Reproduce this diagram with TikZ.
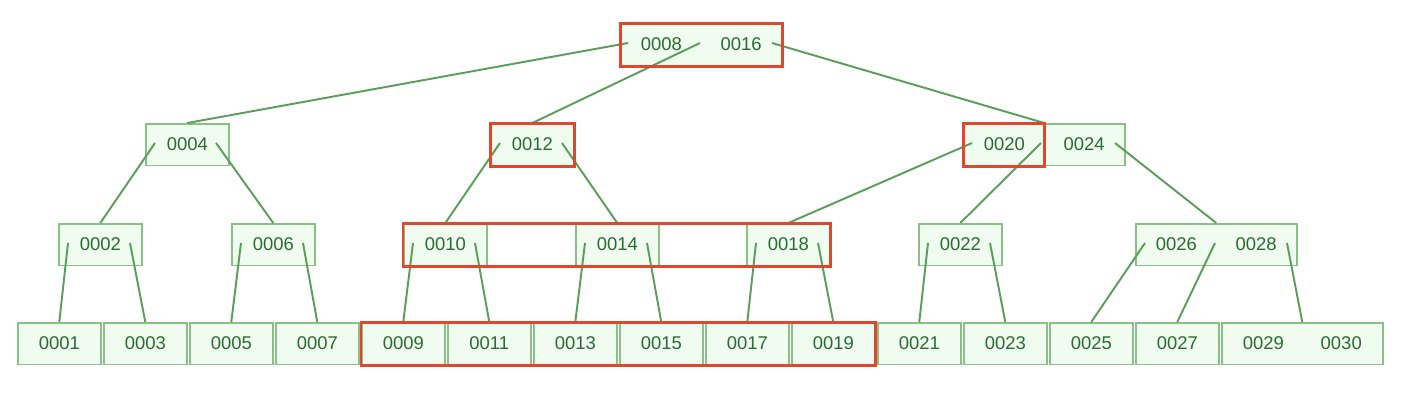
\documentclass[tikz,border=0pt]{standalone}
\usepackage{fontspec}
\setmainfont{Liberation Sans}
\usepackage{tikz}
\usetikzlibrary{positioning,calc}

\definecolor{nodefill}{HTML}{EFFCEF}
\definecolor{nodeline}{HTML}{88C088}
\definecolor{keytext}{HTML}{2A6A33}
\definecolor{ptrline}{HTML}{5A9E5A}
\definecolor{hlred}{HTML}{E2472B}

\begin{document}
\begin{tikzpicture}[x=0.02cm, y=-0.02cm,
  key/.style={rectangle, draw=nodeline, fill=nodefill, line width=0.9pt,
    minimum width=1.66cm, minimum height=0.83cm, inner sep=0pt,
    anchor=north west, font=\fontsize{10.5}{12}\selectfont, text=keytext},
  wide/.style={key, minimum width=3.22cm},
  ptr/.style={draw=ptrline, line width=1.1pt},
  hl/.style={draw=hlred, line width=1.7pt}
]
  \useasboundingbox (0,0) rectangle (1426,414);

  \node[wide] (n0008) at (620,23) {0008\hspace{22pt}0016};

  \node[key] (n0004) at (145,123) {0004};
  \node[key] (n0012) at (490,123) {0012};
  \node[wide] (n0020) at (963,123) {0020\hspace{22pt}0024};

  \foreach \k/\x in {0002/58,0006/231,0010/403,0014/575,0018/746,0022/918}
    \node[key] (n\k) at (\x,223) {\k};
  \node[wide] (n0026) at (1135,223) {0026\hspace{22pt}0028};

  \foreach \k [count=\i from 0] in {0001,0003,0005,0007,0009,0011,0013,
    0015,0017,0019,0021,0023,0025,0027}
    \node[key] (n\k) at ({17+86*\i},322) {\k};
  \node[wide] (n0029) at (1221,322) {0029\hspace{21pt}0030};

  \foreach \p/\dx/\c in {n0008/8/n0004,n0008/80/n0012,n0008/152/n0020,
    n0004/10/n0002,n0004/71/n0006,n0012/10/n0010,n0012/72/n0014,
    n0020/9/n0018,n0020/78/n0022,n0020/152/n0026,
    n0002/10/n0001,n0002/72/n0003,n0006/10/n0005,n0006/72/n0007,
    n0010/10/n0009,n0010/72/n0011,n0014/10/n0013,n0014/72/n0015,
    n0018/10/n0017,n0018/72/n0019,n0022/10/n0021,n0022/72/n0023,
    n0026/10/n0025,n0026/80/n0027,n0026/152/n0029}
    \draw[ptr] ([shift={(\dx,20)}]\p.north west) -- (\c.north);

  \draw[hl] (n0008.north west) rectangle (n0008.south east);
  \draw[hl] (n0012.north west) rectangle (n0012.south east);
  \draw[hl] (n0020.north west) rectangle (n0020.south);
  \draw[hl] (n0010.north west) rectangle (n0018.south east);
  \draw[hl] (n0009.north west) rectangle (n0019.south east);
\end{tikzpicture}
\end{document}
